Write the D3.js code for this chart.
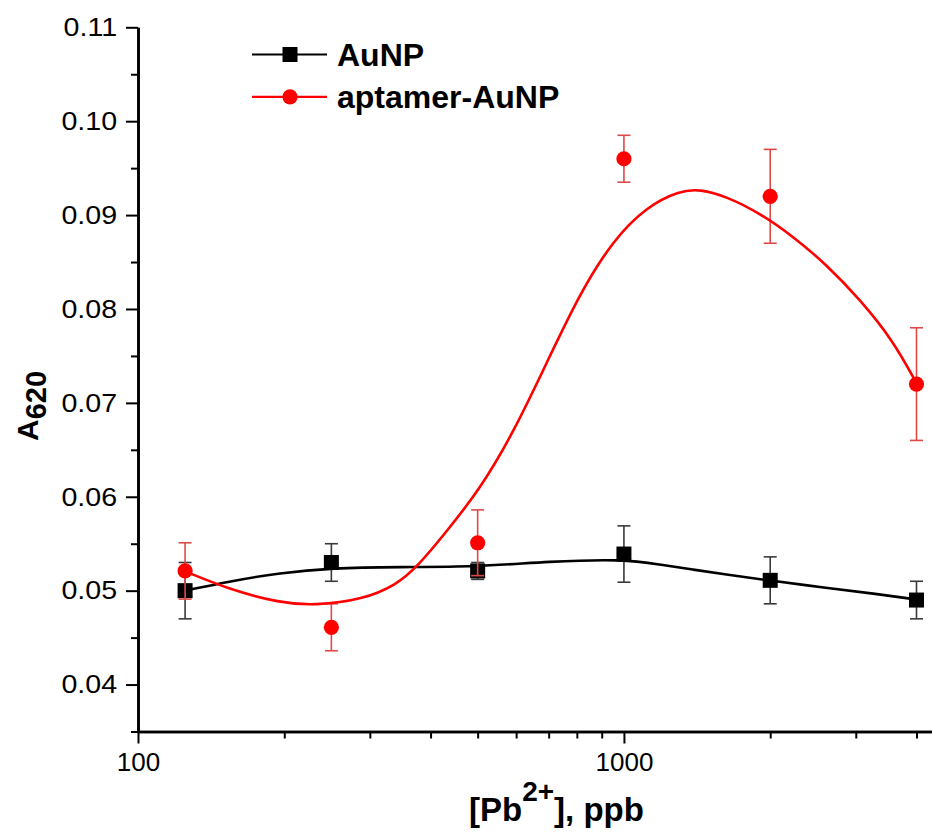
<!DOCTYPE html>
<html>
<head>
<meta charset="utf-8">
<script src="https://cdn.jsdelivr.net/npm/d3@7"></script>
<style>
  html, body { margin: 0; padding: 0; background: #fff; }
  svg { display: block; font-family: Arial, "Liberation Sans", sans-serif; }
</style>
</head>
<body>
<div id="chart"></div>
<script>
// measured points, Pb2+ concentration in ppb
const conc = [125, 250, 500, 1000, 2000, 4000]
const auNP = [0.0500, 0.0530, 0.0521, 0.0539, 0.0511, 0.0490]
const auNPErr = [0.0030, 0.0020, 0.0009, 0.0030, 0.0025, 0.0020]
const aptamer = [0.0521, 0.0461, 0.0551, 0.0960, 0.0920, 0.0720]
const aptamerErr = [0.0030, 0.0025, 0.0035, 0.0025, 0.0050, 0.0060]

// smooth fit curves
const auNPFitX = [125, 154.5, 195.7, 250, 346, 493, 704, 1000, 1186, 1389, 1627, 1998, 2615, 3314, 4005]
const auNPFitY = [0.0500, 0.0510, 0.0519, 0.05242, 0.05253, 0.05253, 0.05312, 0.05336, 0.05277, 0.05224, 0.05171, 0.05107, 0.05029, 0.04965, 0.04905]
const aptFitX = [125, 154.5, 195.7, 231, 290.6, 340.4, 374.3, 431.5, 505.2, 591.8, 693.1, 811.8, 950.6, 1113.6, 1304.5, 1434, 1627, 1905, 2232, 2615, 3061, 3585, 4005]
const aptFitY = [0.05206, 0.05011, 0.04870, 0.04841, 0.04905, 0.05064, 0.05245, 0.05630, 0.06080, 0.06679, 0.07424, 0.08169, 0.08736, 0.09091, 0.09261, 0.09276, 0.09197, 0.09020, 0.08770, 0.08470, 0.08100, 0.07660, 0.07204]

const yMajor = [0.04, 0.05, 0.06, 0.07, 0.08, 0.09, 0.10, 0.11]
const yMinor = [0.035, 0.045, 0.055, 0.065, 0.075, 0.085, 0.095, 0.105]
const xMajor = [100, 1000]
const xMinor = [200, 300, 400, 500, 600, 700, 800, 900, 2000, 3000, 4000]

const width = 932
const height = 834

const svg = d3.select('#chart').append('svg')
  .attr('width', width)
  .attr('height', height)

const x = d3.scaleLog().domain([100, 4305]).range([138, 932])
const y = d3.scaleLinear().domain([0.035, 0.11]).range([731.5, 27.3])

// axes
const yAxisG = svg.append('g').attr('transform', 'translate(138,0)')
yAxisG.call(d3.axisLeft(y).tickValues(yMajor).tickSize(12).tickSizeOuter(0).tickPadding(7)
  .tickFormat(d3.format('.2f')))
yAxisG.append('g').call(d3.axisLeft(y).tickValues(yMinor).tickSize(7).tickSizeOuter(0).tickFormat(''))

const xAxisG = svg.append('g').attr('transform', 'translate(0,731.5)')
xAxisG.call(d3.axisBottom(x).tickValues(xMajor).tickSize(12).tickSizeOuter(0).tickPadding(9)
  .tickFormat(d3.format('d')))
xAxisG.append('g').call(d3.axisBottom(x).tickValues(xMinor).tickSize(7).tickSizeOuter(0).tickFormat(''))

svg.selectAll('.domain').attr('stroke', '#000').attr('stroke-width', 2.6)
svg.selectAll('.tick line').attr('stroke', '#000').attr('stroke-width', 2)
svg.selectAll('.tick text').attr('fill', '#000').attr('font-size', 26)
  .attr('font-family', 'Arial, "Liberation Sans", sans-serif')
// y labels in the original are a little wider
yAxisG.selectAll('.tick text').attr('transform', 'scale(1.1,1)')

// axis titles
const yTitle = svg.append('text')
  .attr('transform', 'translate(38,441) rotate(-90)')
  .attr('font-size', 30).attr('font-weight', 'bold')
yTitle.append('tspan').text('A')
yTitle.append('tspan').attr('font-size', 29).attr('dy', 8).text('620')

const xTitle = svg.append('text')
  .attr('x', 469).attr('y', 821)
  .attr('font-size', 33).attr('font-weight', 'bold')
xTitle.append('tspan').text('[Pb')
xTitle.append('tspan').attr('font-size', 28).attr('dy', -20).text('2+')
xTitle.append('tspan').attr('dy', 20).text('], ppb')

// one helper per series
function drawSeries(vals, errs, fitX, fitY, color, errColor, shape) {
  const pts = conc.map((c, i) => ({ c: c, v: vals[i], e: errs[i] }))
  const eb = svg.append('g').attr('stroke', errColor).attr('stroke-width', 1.6)
  eb.selectAll('line.v').data(pts).enter().append('line')
    .attr('x1', d => x(d.c)).attr('x2', d => x(d.c))
    .attr('y1', d => y(d.v - d.e)).attr('y2', d => y(d.v + d.e))
  eb.selectAll('line.t').data(pts).enter().append('line')
    .attr('x1', d => x(d.c) - 6.5).attr('x2', d => x(d.c) + 6.5)
    .attr('y1', d => y(d.v + d.e)).attr('y2', d => y(d.v + d.e))
  eb.selectAll('line.b').data(pts).enter().append('line')
    .attr('x1', d => x(d.c) - 6.5).attr('x2', d => x(d.c) + 6.5)
    .attr('y1', d => y(d.v - d.e)).attr('y2', d => y(d.v - d.e))

  const line = d3.line()
    .x((d, i) => x(fitX[i]))
    .y(d => y(d))
    .curve(d3.curveBasis)
  svg.append('path').datum(fitY)
    .attr('fill', 'none').attr('stroke', color).attr('stroke-width', 2.6)
    .attr('d', line)

  if (shape === 'square') {
    svg.append('g').selectAll('rect').data(pts).enter().append('rect')
      .attr('x', d => x(d.c) - 7.5).attr('y', d => y(d.v) - 7.5)
      .attr('width', 15).attr('height', 15).attr('fill', color)
  } else {
    svg.append('g').selectAll('circle').data(pts).enter().append('circle')
      .attr('cx', d => x(d.c)).attr('cy', d => y(d.v))
      .attr('r', 7.6).attr('fill', color)
  }
}

drawSeries(auNP, auNPErr, auNPFitX, auNPFitY, '#000', '#3a3a3a', 'square')
drawSeries(aptamer, aptamerErr, aptFitX, aptFitY, '#ff0000', '#e04848', 'circle')

// legend
const legend = svg.append('g')
legend.append('line').attr('x1', 252).attr('x2', 327).attr('y1', 54.5).attr('y2', 54.5)
  .attr('stroke', '#000').attr('stroke-width', 2.2)
legend.append('rect').attr('x', 282.5).attr('y', 47).attr('width', 15).attr('height', 15).attr('fill', '#000')
legend.append('text').attr('x', 337).attr('y', 65.5).attr('font-size', 32).attr('font-weight', 'bold').text('AuNP')

legend.append('line').attr('x1', 252).attr('x2', 327).attr('y1', 96.8).attr('y2', 96.8)
  .attr('stroke', '#ff0000').attr('stroke-width', 2.2)
legend.append('circle').attr('cx', 290).attr('cy', 96.8).attr('r', 7.6).attr('fill', '#ff0000')
legend.append('text').attr('x', 337).attr('y', 108).attr('font-size', 32).attr('font-weight', 'bold').text('aptamer-AuNP')
</script>
</body>
</html>
